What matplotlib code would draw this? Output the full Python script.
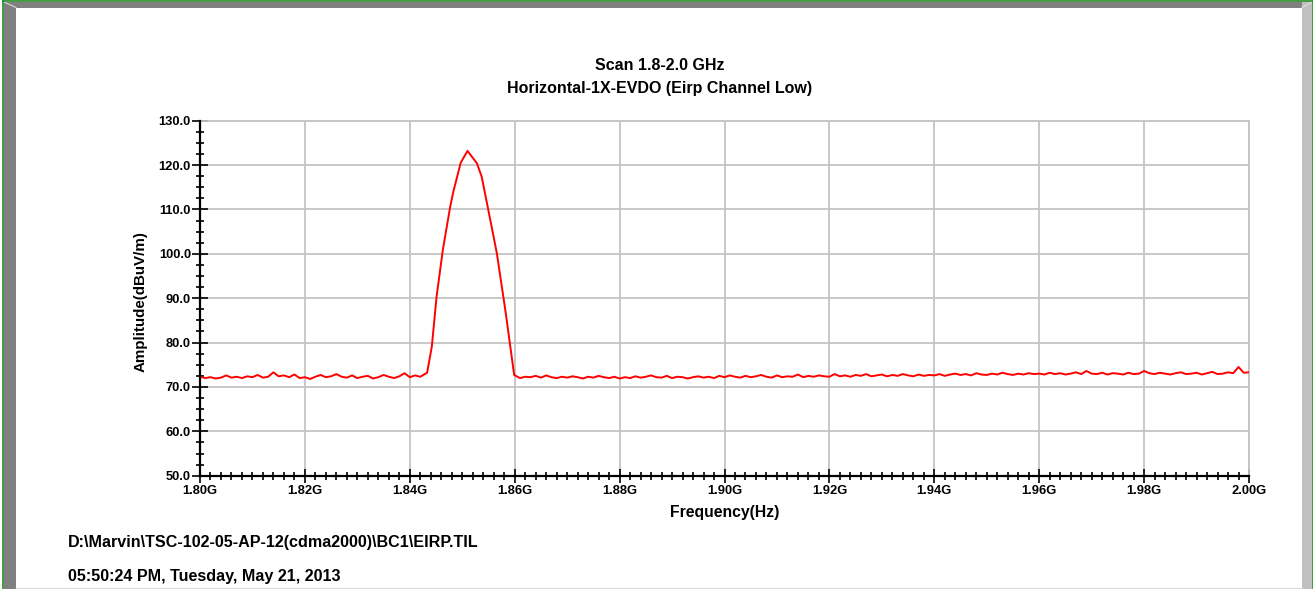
import matplotlib
matplotlib.use("Agg")
import matplotlib.pyplot as plt
from matplotlib.patches import Rectangle
from matplotlib.ticker import MultipleLocator, FuncFormatter
import numpy as np

# ---------------- data ----------------
noise_left_start_mhz = 1800
noise_left = [72.3, 72.0, 72.2, 71.9, 72.1, 72.6, 72.1, 72.3, 72.0, 72.4,
              72.2, 72.7, 72.1, 72.3, 73.3, 72.4, 72.6, 72.2, 72.8, 72.0,
              72.2, 71.8, 72.3, 72.7, 72.2, 72.4, 72.9, 72.3, 72.1, 72.6,
              72.0, 72.3, 72.5, 71.9, 72.2, 72.7, 72.3, 72.0, 72.4, 73.1,
              72.2, 72.6, 72.3]

peak_mhz = [1843.3, 1844.2, 1845.1, 1846.3, 1847.7, 1848.3, 1849.7, 1851.0,
            1852.8, 1853.7, 1854.9, 1856.6, 1858.3, 1859.9]
peak_db = [73.2, 79.1, 90.3, 100.9, 110.6, 114.0, 120.5, 123.2,
           120.4, 117.4, 110.3, 100.1, 86.6, 72.7]

noise_right_start_mhz = 1861
noise_right = [72.0, 72.3, 72.2, 72.5, 72.1, 72.6, 72.2, 72.0, 72.3,
               72.1, 72.4, 72.2, 71.9, 72.3, 72.1, 72.5, 72.2, 72.0, 72.3,
               71.9, 72.2, 72.0, 72.4, 72.1, 72.3, 72.6, 72.2, 72.1, 72.5,
               72.0, 72.3, 72.2, 71.9, 72.2, 72.4, 72.1, 72.3, 72.0, 72.5,
               72.2, 72.6, 72.3, 72.1, 72.5, 72.2, 72.4, 72.7, 72.3, 72.1,
               72.6, 72.2, 72.4, 72.3, 72.8, 72.2, 72.5, 72.3, 72.6, 72.4,
               72.3, 72.9, 72.4, 72.6, 72.3, 72.7, 72.5, 72.9, 72.4, 72.6,
               72.8, 72.4, 72.7, 72.5, 72.9, 72.6, 72.4, 72.8, 72.5, 72.7,
               72.6, 72.9, 72.5, 72.8, 73.0, 72.7, 72.9, 72.6, 73.1, 72.8,
               72.7, 73.0, 72.8, 73.2, 72.9, 72.7, 73.0, 72.8, 73.1, 72.9,
               73.0, 72.8, 73.2, 72.9, 73.1, 72.8, 73.0, 73.3, 72.9, 73.6,
               73.0, 72.9, 73.2, 72.8, 73.1, 73.0, 72.8, 73.2, 72.9, 73.0,
               73.6, 73.1, 72.9, 73.2, 73.0, 72.8, 73.1, 73.3, 72.9, 73.0,
               73.2, 72.8, 73.1, 73.4, 72.9, 73.0, 73.3, 73.1, 74.5, 73.2,
               73.3]

title_lines = ["Scan 1.8-2.0 GHz", "Horizontal-1X-EVDO (Eirp Channel Low)"]
xlabel = "Frequency(Hz)"
ylabel = "Amplitude(dBuV/m)"
footer_lines = ["D:\\Marvin\\TSC-102-05-AP-12(cdma2000)\\BC1\\EIRP.TIL",
                "05:50:24 PM, Tuesday, May 21, 2013"]

# ---------------- build trace ----------------
f_left = noise_left_start_mhz + np.arange(len(noise_left))
f_right = noise_right_start_mhz + np.arange(len(noise_right))
freq_hz = np.concatenate([f_left, peak_mhz, f_right]) * 1e6
amp = np.concatenate([noise_left, peak_db, noise_right])

# ---------------- figure ----------------
W, H = 1313, 589
plt.rcParams['font.family'] = ['Liberation Sans', 'DejaVu Sans']
plt.rcParams['font.weight'] = 'bold'
fig = plt.figure(figsize=(W / 100, H / 100), dpi=100)
fig.patch.set_facecolor('white')

# background frame (pixel coordinates)
bg = fig.add_axes([0, 0, 1, 1], zorder=-5)
bg.set_xlim(0, W)
bg.set_ylim(H, 0)
bg.axis('off')
bg.add_patch(Rectangle((4, 2), 12, 587, facecolor='#808080', edgecolor='none'))
bg.add_patch(Rectangle((4, 2), 1298, 5.5, facecolor='#808080', edgecolor='none'))
bg.add_patch(Rectangle((1302, 2), 10, 587, facecolor='#c0c0c0', edgecolor='none'))
bg.plot([4, 16], [2, 7.5], color='#d8d8d8', lw=0.8)
bg.plot([1302, 1312], [7.5, 2], color='#e0e0e0', lw=0.8)
bg.plot([3, 3], [1, 589], color='#1f8a1f', lw=1.2)
bg.plot([3, 1312.5], [1, 1], color='#1f8a1f', lw=1.2)
bg.plot([1312.5, 1312.5], [1, 589], color='#1f8a1f', lw=1.2)
bg.plot([16, 1302], [587.5, 587.5], color='#dcdcdc', lw=1.0)

# main axes
x0, x1 = 200, 1249
y0, y1 = 120.7, 475.7
ax = fig.add_axes([x0 / W, 1 - y1 / H, (x1 - x0) / W, (y1 - y0) / H])
ax.set_facecolor('none')
ax.plot(freq_hz, amp, color='#ff0000', lw=1.4, zorder=3)

ax.set_xlim(1.8e9, 2.0e9)
ax.set_ylim(50, 130)
ax.xaxis.set_major_locator(MultipleLocator(0.02e9))
ax.xaxis.set_minor_locator(MultipleLocator(0.002e9))
ax.yaxis.set_major_locator(MultipleLocator(10))
ax.yaxis.set_minor_locator(MultipleLocator(2.5))
ax.xaxis.set_major_formatter(FuncFormatter(lambda v, p: f"{v / 1e9:.2f}G"))
ax.yaxis.set_major_formatter(FuncFormatter(lambda v, p: f"{v:.1f}"))

ax.grid(True, which='major', color='#c4c4c4', lw=1.3, zorder=0)
ax.set_axisbelow(True)
for s in ['top', 'right']:
    ax.spines[s].set_color('#c4c4c4')
    ax.spines[s].set_linewidth(1.3)
for s in ['left', 'bottom']:
    ax.spines[s].set_color('black')
    ax.spines[s].set_linewidth(1.6)
    ax.spines[s].set_zorder(4)

ax.tick_params(which='major', direction='inout', length=11, width=1.2,
               color='black', labelsize=9.3, pad=1)
ax.tick_params(which='minor', direction='inout', length=6, width=1.2,
               color='black')
ax.tick_params(axis='x', which='major', length=10, pad=2)
for lab in ax.get_xticklabels() + ax.get_yticklabels():
    lab.set_fontweight('bold')

# labels (figure pixel positions)
def px(x, y):
    return x / W, 1 - y / H

fig.text(*px(660, 66), title_lines[0], ha='center', va='center',
         fontsize=11.5, fontweight='bold')
fig.text(*px(660, 89), title_lines[1], ha='center', va='center',
         fontsize=11.5, fontweight='bold')
fig.text(*px(725, 513), xlabel, ha='center', va='center',
         fontsize=11.3, fontweight='bold')
fig.text(*px(141, 302), ylabel, ha='center', va='center', rotation=90,
         fontsize=10.9, fontweight='bold')
fig.text(*px(68, 543), footer_lines[0], ha='left', va='center',
         fontsize=11.6, fontweight='bold')
fig.text(*px(68, 576), footer_lines[1], ha='left', va='center',
         fontsize=11.6, fontweight='bold')

fig.savefig('out.png', dpi=100)
